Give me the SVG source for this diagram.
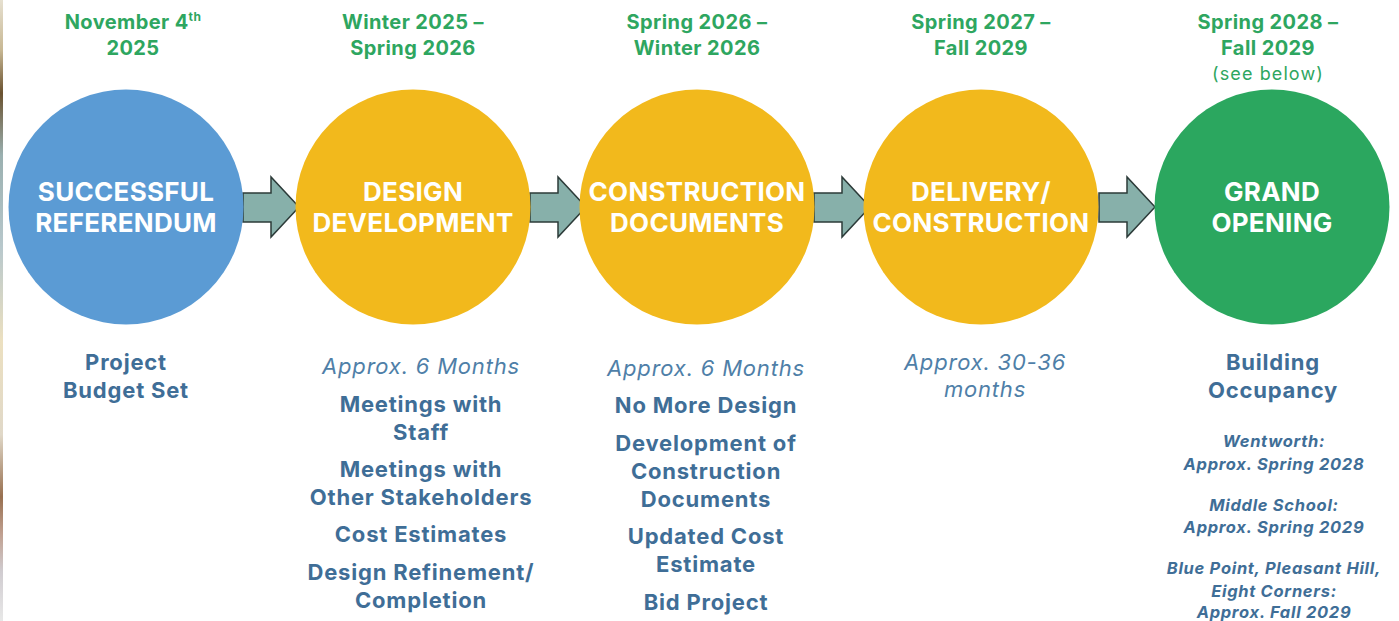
<svg xmlns="http://www.w3.org/2000/svg" width="1399" height="621" viewBox="0 0 1399 621">
<defs>
<linearGradient id="strip" x1="0" y1="0" x2="0" y2="1">
<stop offset="0" stop-color="#e6e0d0"/>
<stop offset="0.08" stop-color="#c8b894"/>
<stop offset="0.15" stop-color="#6a5230"/>
<stop offset="0.25" stop-color="#9ab0b0"/>
<stop offset="0.4" stop-color="#b8c8cc"/>
<stop offset="0.55" stop-color="#ece0c0"/>
<stop offset="0.7" stop-color="#e0d8c8"/>
<stop offset="0.8" stop-color="#987050"/>
<stop offset="0.86" stop-color="#c0a090"/>
<stop offset="0.92" stop-color="#d0ccd0"/>
<stop offset="1" stop-color="#e8e8e8"/>
</linearGradient>
</defs>
<style>
text{font-family:Inter,"Liberation Sans",sans-serif;text-anchor:middle}
.date{font-size:20px;font-weight:700;fill:#2ea660;letter-spacing:0.4px}
.datesub{font-size:18px;font-weight:400;fill:#2ea660;letter-spacing:1.1px}
.title{font-size:26px;font-weight:700;fill:#ffffff;letter-spacing:0.3px}
.item{font-size:22px;font-weight:700;fill:#3f6e97;letter-spacing:0.8px}
.dur{font-size:22px;font-style:italic;font-weight:400;fill:#4f7fa8;letter-spacing:0.8px}
.small{font-size:16.5px;font-style:italic;font-weight:700;fill:#3f6e97;letter-spacing:0.7px}
.arrow{fill:#87b0aa;stroke:#2c3b39;stroke-width:1.5;stroke-linejoin:miter}
</style>
<rect x="0" y="0" width="1399" height="621" fill="#ffffff"/>
<rect x="0" y="0" width="3" height="621" fill="url(#strip)"/>

<g id="connectors">
<path class="arrow" d="M243,193 H271 V177 L299,207 L271,237 V222 H243 Z"/>
<path class="arrow" d="M530,193 H558 V177 L586,207 L558,237 V222 H530 Z"/>
<path class="arrow" d="M814,193 H842 V177 L870,207 L842,237 V222 H814 Z"/>
<path class="arrow" d="M1099,193 H1127 V177 L1155,207 L1127,237 V222 H1099 Z"/>
</g>

<g id="node-referendum">
<text class="date" x="133" y="29">November 4<tspan font-size="12" dy="-8">th</tspan></text>
<text class="date" x="133" y="55">2025</text>
<circle cx="126" cy="207" r="117.5" fill="#5b9bd4"/>
<text class="title" x="126" y="201">SUCCESSFUL</text>
<text class="title" x="126" y="232">REFERENDUM</text>
<text class="item" x="126" y="370">Project</text>
<text class="item" x="126" y="398">Budget Set</text>
</g>

<g id="node-design">
<text class="date" x="413" y="29">Winter 2025 –</text>
<text class="date" x="413" y="55">Spring 2026</text>
<circle cx="413" cy="207" r="117.5" fill="#f2b91c"/>
<text class="title" x="413" y="201">DESIGN</text>
<text class="title" x="413" y="232">DEVELOPMENT</text>
<text class="dur" x="421" y="374">Approx. 6 Months</text>
<text class="item" x="421" y="412">Meetings with</text>
<text class="item" x="421" y="440">Staff</text>
<text class="item" x="421" y="477">Meetings with</text>
<text class="item" x="421" y="505">Other Stakeholders</text>
<text class="item" x="421" y="542">Cost Estimates</text>
<text class="item" x="421" y="580">Design Refinement/</text>
<text class="item" x="421" y="608">Completion</text>
</g>

<g id="node-construction-docs">
<text class="date" x="697" y="29">Spring 2026 –</text>
<text class="date" x="697" y="55">Winter 2026</text>
<circle cx="697" cy="207" r="117.5" fill="#f2b91c"/>
<text class="title" x="697" y="201">CONSTRUCTION</text>
<text class="title" x="697" y="232">DOCUMENTS</text>
<text class="dur" x="706" y="376">Approx. 6 Months</text>
<text class="item" x="706" y="413">No More Design</text>
<text class="item" x="706" y="451">Development of</text>
<text class="item" x="706" y="479">Construction</text>
<text class="item" x="706" y="507">Documents</text>
<text class="item" x="706" y="544">Updated Cost</text>
<text class="item" x="706" y="572">Estimate</text>
<text class="item" x="706" y="610">Bid Project</text>
</g>

<g id="node-delivery">
<text class="date" x="981" y="29">Spring 2027 –</text>
<text class="date" x="981" y="55">Fall 2029</text>
<circle cx="981" cy="207" r="117.5" fill="#f2b91c"/>
<text class="title" x="981" y="201">DELIVERY/</text>
<text class="title" x="981" y="232">CONSTRUCTION</text>
<text class="dur" x="985" y="370">Approx. 30-36</text>
<text class="dur" x="985" y="397">months</text>
</g>

<g id="node-grand-opening">
<text class="date" x="1268" y="29">Spring 2028 –</text>
<text class="date" x="1268" y="55">Fall 2029</text>
<text class="datesub" x="1268" y="80">(see below)</text>
<circle cx="1272" cy="207" r="117.5" fill="#2ba75f"/>
<text class="title" x="1272" y="201">GRAND</text>
<text class="title" x="1272" y="232">OPENING</text>
<text class="item" x="1273" y="370">Building</text>
<text class="item" x="1273" y="398">Occupancy</text>
<text class="small" x="1274" y="447">Wentworth:</text>
<text class="small" x="1274" y="470">Approx. Spring 2028</text>
<text class="small" x="1274" y="511">Middle School:</text>
<text class="small" x="1274" y="533">Approx. Spring 2029</text>
<text class="small" x="1274" y="574">Blue Point, Pleasant Hill,</text>
<text class="small" x="1274" y="597">Eight Corners:</text>
<text class="small" x="1274" y="618">Approx. Fall 2029</text>
</g>
</svg>
